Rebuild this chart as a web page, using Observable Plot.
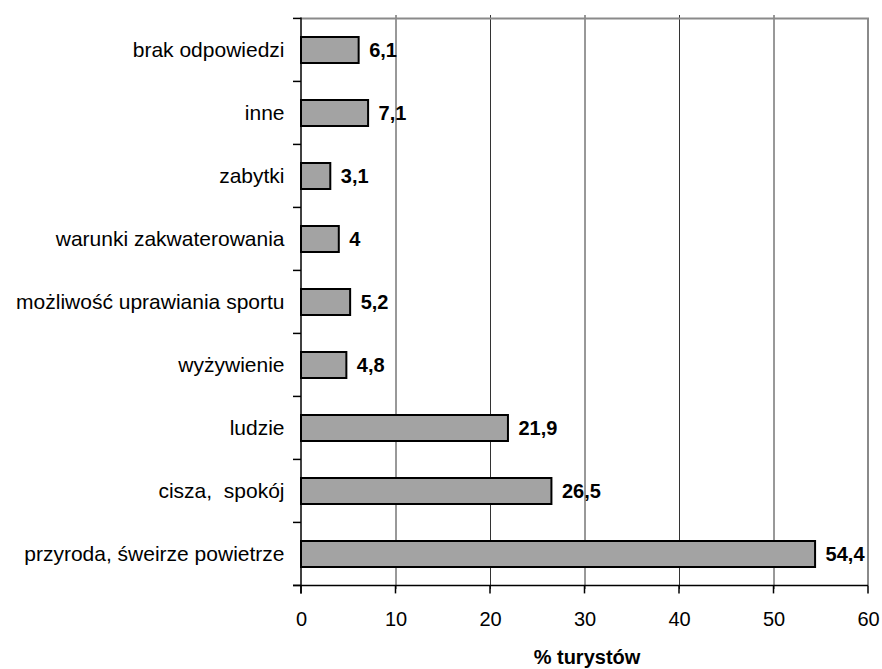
<!DOCTYPE html>
<html>
<head>
<meta charset="utf-8">
<script src="https://cdn.jsdelivr.net/npm/d3@7"></script>
<script src="https://cdn.jsdelivr.net/npm/@observablehq/plot@0.6"></script>
<style>
  html, body { margin: 0; padding: 0; background: white; }
</style>
</head>
<body>
<div id="chart"></div>
<script>
const categories = [
  "brak odpowiedzi",
  "inne",
  "zabytki",
  "warunki zakwaterowania",
  "możliwość uprawiania sportu",
  "wyżywienie",
  "ludzie",
  "cisza,  spokój",
  "przyroda, śweirze powietrze"
];
const values = [6.1, 7.1, 3.1, 4, 5.2, 4.8, 21.9, 26.5, 54.4];
const valueLabels = ["6,1", "7,1", "3,1", "4", "5,2", "4,8", "21,9", "26,5", "54,4"];
const xTicks = [0, 10, 20, 30, 40, 50, 60];
const xTitle = "% turystów";

const data = categories.map((c, i) => ({category: c, value: values[i], label: valueLabels[i]}));
const P = 0.59;

function frameAndTicks(index, scales, values_, dimensions, context) {
  const doc = context.document;
  const ns = "http://www.w3.org/2000/svg";
  const g = doc.createElementNS(ns, "g");
  const x = scales.x, y = scales.y;
  const step = y(categories[1]) - y(categories[0]);
  const x0 = x(xTicks[0]), x1 = x(xTicks[xTicks.length - 1]);
  const bounds = categories.map(c => y(c) - step * P / 2);
  bounds.push(y(categories[categories.length - 1]) + step * (1 - P / 2));
  const top = bounds[0], bottom = bounds[bounds.length - 1];
  function line(a, b, c, d, stroke, w) {
    const l = doc.createElementNS(ns, "line");
    l.setAttribute("x1", a); l.setAttribute("y1", b);
    l.setAttribute("x2", c); l.setAttribute("y2", d);
    l.setAttribute("stroke", stroke); l.setAttribute("stroke-width", w);
    g.appendChild(l);
  }
  line(x0, top, x1 + 1, top, "#8a8a8a", 2);
  line(x1, top, x1, bottom, "#8a8a8a", 2);
  line(x0, top - 1, x0, bottom + 8, "black", 1.5);
  line(x0 - 8, bottom, x1, bottom, "black", 1.5);
  for (const b of bounds) line(x0 - 8, b, x0, b, "black", 1.5);
  for (const t of xTicks) line(x(t), bottom, x(t), bottom + 8, "black", 1.5);
  return g;
}

const chart = Plot.plot({
  width: 882,
  height: 669,
  marginLeft: 301,
  marginRight: 14,
  marginTop: 15,
  marginBottom: 80,
  style: {fontFamily: "'Liberation Sans', Arial, sans-serif", fontSize: "20px", background: "white", color: "black"},
  x: {domain: [0, 60], axis: null},
  y: {domain: categories, paddingInner: P, paddingOuter: P / 2, axis: null},
  marks: [
    Plot.ruleX(xTicks.slice(1, -1), {stroke: "#333", strokeWidth: 1}),
    Plot.barX(data, {x: "value", y: "category", fill: "#a3a3a3", stroke: "black", strokeWidth: 2}),
    Plot.text(data, {x: "value", y: "category", text: "label", textAnchor: "start", dx: 10, fontWeight: "bold", fontSize: 20}),
    Plot.axisY({tickSize: 0, tickPadding: 17, label: null, fontSize: 21}),
    Plot.axisX({ticks: xTicks, tickSize: 0, tickPadding: 0, tickFormat: d => String(d), label: null, fontSize: 20, dy: 30, lineAnchor: "middle"}),
    frameAndTicks,
    Plot.text([xTitle], {frameAnchor: "bottom", dy: 68, lineAnchor: "middle", fontWeight: "bold", fontSize: 20, dx: 2, letterSpacing: "0.6px"})
  ]
});
document.getElementById("chart").appendChild(chart);
</script>
</body>
</html>
